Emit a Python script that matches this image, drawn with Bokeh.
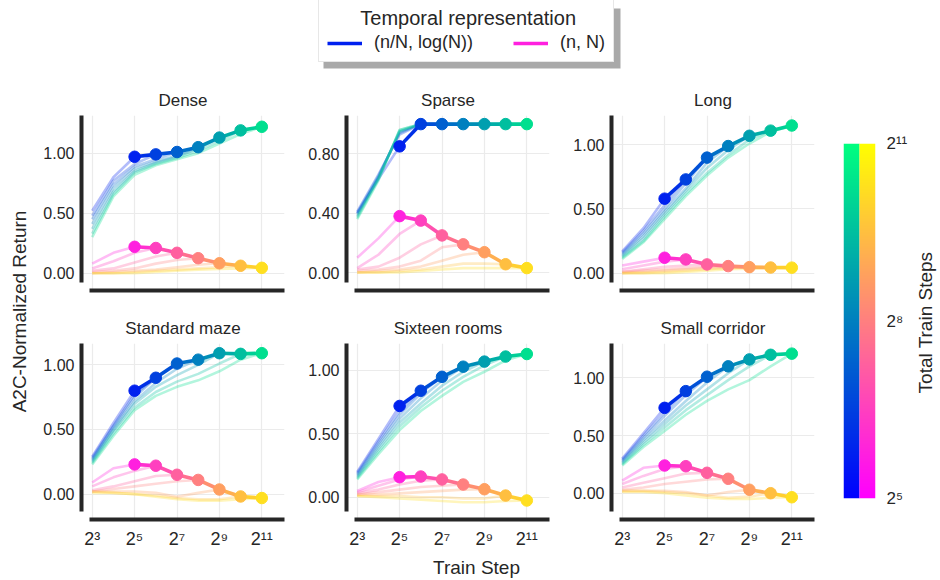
import numpy as np
from bokeh.plotting import figure
from bokeh.models import (Range1d, FixedTicker, PrintfTickFormatter, Legend, LegendItem,
                          Label, LinearColorMapper, BoxAnnotation)
from bokeh.layouts import row, column
from bokeh.embed import file_html
from bokeh.resources import INLINE

# ---------------- data ----------------
PANEL_TITLES = ["Dense", "Sparse", "Long", "Standard maze", "Sixteen rooms", "Small corridor"]
FIRST_EXP = 3                       # curves start at train step 2^3
TOTAL_EXP = [5, 6, 7, 8, 9, 10, 11]  # total train steps 2^5 ... 2^11 (one run each)
X_TICKS = [8, 32, 128, 512, 2048]
X_TICK_LABELS = ["2\u00b3", "2\u2075", "2\u2077", "2\u2079", "2\u00b9\u00b9"]
CB_TICKS = [32, 256, 2048]
CB_TICK_LABELS = ["2\u2075", "2\u2078", "2\u00b9\u00b9"]
Y_TICKS = [[0, 0.5, 1.0], [0, 0.4, 0.8], [0, 0.5, 1.0],
           [0, 0.5, 1.0], [0, 0.5, 1.0], [0, 0.5, 1.0]]
LEGEND_TITLE = "Temporal representation"
LEGEND_LABELS = ["(n/N, log(N))", "(n, N)"]

# each row: returns at train steps 2^3, 2^4, ..., 2^N for the run with N total steps
DENSE_BLUE = [
    [0.52, 0.80, 0.97],
    [0.48, 0.77, 0.91, 0.99],
    [0.45, 0.74, 0.89, 0.95, 1.01],
    [0.41, 0.71, 0.87, 0.93, 0.98, 1.05],
    [0.37, 0.68, 0.85, 0.92, 0.97, 1.04, 1.13],
    [0.33, 0.66, 0.84, 0.91, 0.96, 1.02, 1.10, 1.19],
    [0.30, 0.64, 0.82, 0.90, 0.95, 1.00, 1.08, 1.16, 1.22],
]
DENSE_PINK = [
    [0.08, 0.17, 0.22],
    [0.04, 0.10, 0.17, 0.21],
    [0.02, 0.04, 0.09, 0.14, 0.17],
    [0.01, 0.02, 0.04, 0.08, 0.11, 0.125],
    [0.00, 0.01, 0.02, 0.03, 0.05, 0.07, 0.083],
    [0.00, 0.00, 0.01, 0.02, 0.03, 0.04, 0.05, 0.062],
    [0.00, 0.00, 0.00, 0.01, 0.02, 0.03, 0.035, 0.04, 0.045],
]
SPARSE_BLUE = [
    [0.40, 0.63, 0.85],
    [0.41, 0.66, 0.93, 1.00],
    [0.40, 0.65, 0.94, 1.00, 1.00],
    [0.39, 0.64, 0.95, 1.00, 1.00, 1.00],
    [0.38, 0.64, 0.95, 1.00, 1.00, 1.00, 1.00],
    [0.37, 0.63, 0.96, 1.00, 1.00, 1.00, 1.00, 1.00],
    [0.36, 0.62, 0.96, 1.00, 1.00, 1.00, 1.00, 1.00, 1.00],
]
SPARSE_PINK = [
    [0.10, 0.23, 0.38],
    [0.03, 0.12, 0.26, 0.35],
    [0.02, 0.04, 0.10, 0.19, 0.25],
    [0.01, 0.02, 0.04, 0.08, 0.17, 0.19],
    [0.00, 0.01, 0.02, 0.04, 0.08, 0.12, 0.137],
    [0.00, 0.00, 0.01, 0.02, 0.04, 0.06, 0.06, 0.056],
    [0.00, 0.00, 0.00, 0.01, 0.02, 0.03, 0.03, 0.03, 0.03],
]
LONG_BLUE = [
    [0.17, 0.35, 0.58],
    [0.16, 0.33, 0.53, 0.73],
    [0.15, 0.31, 0.50, 0.70, 0.90],
    [0.14, 0.29, 0.48, 0.66, 0.86, 0.99],
    [0.13, 0.27, 0.46, 0.64, 0.82, 0.96, 1.07],
    [0.12, 0.25, 0.44, 0.62, 0.78, 0.92, 1.04, 1.11],
    [0.11, 0.24, 0.42, 0.60, 0.76, 0.90, 1.01, 1.10, 1.15],
]
LONG_PINK = [
    [0.06, 0.09, 0.12],
    [0.03, 0.06, 0.09, 0.107],
    [0.01, 0.03, 0.05, 0.06, 0.068],
    [0.01, 0.02, 0.03, 0.04, 0.05, 0.055],
    [0.00, 0.01, 0.02, 0.03, 0.04, 0.045, 0.047],
    [0.00, 0.00, 0.01, 0.02, 0.03, 0.04, 0.044, 0.044],
    [0.00, 0.00, 0.00, 0.01, 0.02, 0.03, 0.035, 0.04, 0.043],
]
MAZE_BLUE = [
    [0.29, 0.55, 0.80],
    [0.28, 0.53, 0.77, 0.90],
    [0.27, 0.52, 0.75, 0.90, 1.01],
    [0.26, 0.50, 0.72, 0.86, 0.97, 1.04],
    [0.25, 0.49, 0.70, 0.83, 0.92, 1.00, 1.09],
    [0.24, 0.47, 0.67, 0.79, 0.87, 0.93, 1.01, 1.085],
    [0.23, 0.45, 0.65, 0.76, 0.83, 0.88, 0.95, 1.04, 1.09],
]
MAZE_PINK = [
    [0.09, 0.20, 0.23],
    [0.06, 0.13, 0.18, 0.22],
    [0.03, 0.06, 0.10, 0.14, 0.15],
    [0.02, 0.04, 0.06, 0.08, 0.10, 0.11],
    [0.02, 0.02, 0.02, 0.01, -0.02, 0.01, 0.036],
    [0.02, 0.01, 0.00, -0.01, -0.03, -0.04, -0.04, -0.018],
    [0.01, 0.01, 0.00, -0.02, -0.04, -0.05, -0.05, -0.04, -0.03],
]
SIXTEEN_BLUE = [
    [0.20, 0.46, 0.72],
    [0.19, 0.44, 0.68, 0.84],
    [0.18, 0.42, 0.65, 0.82, 0.95],
    [0.17, 0.40, 0.62, 0.78, 0.92, 1.03],
    [0.16, 0.38, 0.59, 0.74, 0.88, 0.99, 1.07],
    [0.15, 0.36, 0.56, 0.71, 0.84, 0.95, 1.04, 1.11],
    [0.14, 0.34, 0.53, 0.68, 0.80, 0.91, 0.99, 1.08, 1.13],
]
SIXTEEN_PINK = [
    [0.05, 0.12, 0.158],
    [0.04, 0.09, 0.14, 0.163],
    [0.03, 0.06, 0.10, 0.13, 0.14],
    [0.02, 0.04, 0.06, 0.08, 0.09, 0.10],
    [0.02, 0.02, 0.03, 0.04, 0.05, 0.06, 0.063],
    [0.01, 0.01, 0.01, 0.00, 0.00, -0.01, -0.01, 0.013],
    [0.01, 0.00, -0.01, -0.02, -0.03, -0.04, -0.04, -0.03, -0.026],
]
CORRIDOR_BLUE = [
    [0.30, 0.52, 0.74],
    [0.29, 0.50, 0.70, 0.885],
    [0.28, 0.48, 0.67, 0.85, 1.01],
    [0.27, 0.46, 0.63, 0.80, 0.96, 1.10],
    [0.26, 0.44, 0.60, 0.76, 0.90, 1.04, 1.16],
    [0.25, 0.42, 0.57, 0.72, 0.85, 0.98, 1.10, 1.20],
    [0.24, 0.40, 0.54, 0.68, 0.80, 0.90, 0.98, 1.10, 1.21],
]
CORRIDOR_PINK = [
    [0.11, 0.22, 0.24],
    [0.08, 0.15, 0.21, 0.234],
    [0.05, 0.09, 0.13, 0.17, 0.177],
    [0.03, 0.05, 0.08, 0.10, 0.12, 0.125],
    [0.02, 0.02, 0.02, 0.01, -0.02, 0.01, 0.03],
    [0.02, 0.02, 0.01, 0.00, -0.02, -0.04, -0.03, 0.00],
    [0.01, 0.01, 0.00, -0.02, -0.04, -0.05, -0.05, -0.04, -0.035],
]
BLUE_RUNS = [DENSE_BLUE, SPARSE_BLUE, LONG_BLUE, MAZE_BLUE, SIXTEEN_BLUE, CORRIDOR_BLUE]
PINK_RUNS = [DENSE_PINK, SPARSE_PINK, LONG_PINK, MAZE_PINK, SIXTEEN_PINK, CORRIDOR_PINK]

# ---------------- layout / style ----------------
FONT = "Liberation Sans"
INK = "#262626"
GRID = "#ebebeb"
XLO, XHI, X_SPINE_LO = 2 ** 2.495, 2 ** 12.07, 2 ** 2.87
# (frame bottom, frame top, spine bottom) per panel
Y_FRAMES = [(-0.144, 1.314, -0.078), (-0.121, 1.058, -0.067), (-0.135, 1.228, -0.072),
            (-0.196, 1.165, -0.134), (-0.176, 1.213, -0.113), (-0.228, 1.298, -0.159)]
COLS = [dict(w=256, bl=41, br=12), dict(w=265, bl=50, br=12), dict(w=263, bl=50, br=10)]
ROWS = [dict(h=217, bt=32, bb=10), dict(h=255, bt=43, bb=36)]
SIDE_H = 217 + 255
SIDE_BT, SIDE_BB = 60, 57


def winter(t):
    return "#%02x%02x%02x" % (0, int(round(255 * t)), int(round(255 * (1 - t / 2))))


def spring(t):
    return "#%02x%02x%02x" % (255, int(round(255 * t)), int(round(255 * (1 - t))))


def run_t(i):
    return (i + 1) / 8.0


def blank_fig(width, height, **kw):
    f = figure(width=width, height=height, x_axis_location=None, y_axis_location=None,
               output_backend="svg", toolbar_location=None, **kw)
    f.grid.visible = False
    f.outline_line_color = None
    return f


def make_panel(k):
    r, c = divmod(k, 3)
    ylo, yhi, yspine = Y_FRAMES[k]
    p = figure(width=COLS[c]["w"], height=ROWS[r]["h"], x_axis_type="log",
               x_range=Range1d(XLO, XHI), y_range=Range1d(ylo, yhi),
               output_backend="svg", toolbar_location=None,
               min_border_left=COLS[c]["bl"], min_border_right=COLS[c]["br"],
               min_border_top=ROWS[r]["bt"], min_border_bottom=ROWS[r]["bb"],
               title=PANEL_TITLES[k])
    p.title.align = "center"
    p.title.text_font = FONT
    p.title.text_font_size = "17px"
    p.title.text_font_style = "normal"
    p.title.text_color = INK
    p.title.standoff = 11
    p.outline_line_color = None

    if r == 1:
        p.xaxis.ticker = FixedTicker(ticks=X_TICKS)
        p.xaxis.major_label_overrides = dict(zip(X_TICKS, X_TICK_LABELS))
    else:
        p.xaxis.ticker = FixedTicker(ticks=[])
    p.xgrid.ticker = FixedTicker(ticks=X_TICKS)
    p.xaxis.bounds = (X_SPINE_LO, XHI)
    p.yaxis.bounds = (yspine, yhi)
    p.yaxis.ticker = FixedTicker(ticks=Y_TICKS[k])
    p.ygrid.ticker = FixedTicker(ticks=Y_TICKS[k])
    p.yaxis.formatter = PrintfTickFormatter(format="%.2f")
    for ax in p.axis:
        ax.axis_line_width = 4
        ax.axis_line_color = INK
        ax.major_tick_line_color = None
        ax.minor_tick_line_color = None
        ax.major_tick_out = 0
        ax.major_tick_in = 0
        ax.major_label_text_font = FONT
        ax.major_label_text_color = INK
    p.yaxis.major_label_text_font_size = "16px"
    p.yaxis.major_label_standoff = 7
    p.xaxis.major_label_text_font_size = "18px"
    p.xaxis.major_label_standoff = 9
    p.grid.grid_line_color = GRID
    p.grid.grid_line_width = 1.2

    families = [(BLUE_RUNS[k], winter), (PINK_RUNS[k], spring)]
    # faint learning curves
    for runs, cmap in families:
        for i, (n_exp, ys) in enumerate(zip(TOTAL_EXP, runs)):
            xs = [2.0 ** e for e in range(FIRST_EXP, n_exp + 1)]
            p.line(xs, ys, line_color=cmap(run_t(i)), line_alpha=0.3, line_width=2.6)
    # final-return curves
    for runs, cmap in families:
        fx = [2.0 ** n for n in TOTAL_EXP]
        fy = [ys[-1] for ys in runs]
        cols = [cmap(run_t(i)) for i in range(len(fx))]
        seg_cols = [cmap((run_t(i) + run_t(i + 1)) / 2) for i in range(len(fx) - 1)]
        p.segment(x0=fx[:-1], y0=fy[:-1], x1=fx[1:], y1=fy[1:],
                  line_color=seg_cols, line_width=3.6)
        p.scatter(fx, fy, size=11.5, fill_color=cols, line_color=cols)
    return p


panels = [make_panel(k) for k in range(6)]

# ---------- top legend ----------
TOP_H = 83
top = blank_fig(938, TOP_H, x_range=Range1d(0, 1), y_range=Range1d(0, 1), min_border=0)
# single-point lines: draw nothing in the plot, only supply legend glyphs
rb = top.line(x=[-1], y=[-1], line_color=winter(run_t(0)), line_width=3.5)
rp = top.line(x=[-1], y=[-1], line_color=spring(run_t(0)), line_width=3.5)

top.add_layout(BoxAnnotation(left=323, right=620, bottom=TOP_H - 68, top=TOP_H - 8,
                             left_units="screen", right_units="screen",
                             bottom_units="screen", top_units="screen",
                             fill_color="#9a9a9a", fill_alpha=0.85, line_color=None))
lg = Legend(items=[LegendItem(label=LEGEND_LABELS[0], renderers=[rb]),
                   LegendItem(label=LEGEND_LABELS[1], renderers=[rp])],
            orientation="horizontal", location=(318, TOP_H - 62),
            title="\u00a0" * 6 + LEGEND_TITLE,
            padding=8, spacing=40, glyph_width=35, glyph_height=20,
            label_standoff=12, margin=0, title_standoff=2)
lg.label_text_font = FONT
lg.label_text_font_size = "18px"
lg.label_text_color = INK
lg.title_text_font = FONT
lg.title_text_font_size = "20px"
lg.title_text_font_style = "normal"
lg.title_text_color = INK
lg.background_fill_color = "white"
lg.background_fill_alpha = 1
lg.border_line_color = "#cfcfcf"
lg.border_line_width = 1.5
top.add_layout(lg)

# ---------- left label ----------
ylab = blank_fig(40, SIDE_H, min_border_left=0, min_border_right=0,
                 min_border_top=SIDE_BT, min_border_bottom=SIDE_BB)
ylab.add_layout(Label(x=19, y=187, x_units="screen", y_units="screen",
                      text="A2C-Normalized Return", angle=np.pi / 2,
                      text_align="center", text_baseline="middle",
                      text_font=FONT, text_font_size="19px", text_color=INK))

# ---------- colorbar ----------
cb = figure(width=86, height=SIDE_H, x_range=Range1d(0, 2), y_axis_type="log",
            y_range=Range1d(CB_TICKS[0], CB_TICKS[-1]), y_axis_location="right",
            x_axis_location=None, output_backend="svg", toolbar_location=None,
            min_border_left=19, min_border_right=33,
            min_border_top=SIDE_BT, min_border_bottom=SIDE_BB)
cb.grid.visible = False
cb.outline_line_color = None
grad = np.linspace(0, 1, 256).reshape(-1, 1)
cb.image(image=[grad], x=0, y=CB_TICKS[0], dw=1, dh=CB_TICKS[-1] - CB_TICKS[0],
         color_mapper=LinearColorMapper(palette=[winter(t) for t in np.linspace(0, 1, 256)], low=0, high=1))
cb.image(image=[grad], x=1, y=CB_TICKS[0], dw=1, dh=CB_TICKS[-1] - CB_TICKS[0],
         color_mapper=LinearColorMapper(palette=[spring(t) for t in np.linspace(0, 1, 256)], low=0, high=1))
cb.yaxis.ticker = FixedTicker(ticks=CB_TICKS)
cb.yaxis.major_label_overrides = dict(zip(CB_TICKS, CB_TICK_LABELS))
cb.yaxis.axis_line_color = None
cb.yaxis.major_tick_line_color = None
cb.yaxis.minor_tick_line_color = None
cb.yaxis.major_label_text_font = FONT
cb.yaxis.major_label_text_font_size = "17px"
cb.yaxis.major_label_text_color = INK
cb.yaxis.major_label_standoff = 5

# ---------- colorbar label ----------
clab = blank_fig(30, SIDE_H, min_border_left=0, min_border_right=0,
                 min_border_top=SIDE_BT, min_border_bottom=SIDE_BB)
clab.add_layout(Label(x=15, y=176, x_units="screen", y_units="screen",
                      text="Total Train Steps", angle=np.pi / 2,
                      text_align="center", text_baseline="middle",
                      text_font=FONT, text_font_size="19px", text_color=INK))

# ---------- bottom label ----------
bot = blank_fig(938, 23, min_border=0)
bot.add_layout(Label(x=476, y=11, x_units="screen", y_units="screen", text="Train Step",
                     text_align="center", text_baseline="middle",
                     text_font=FONT, text_font_size="19px", text_color=INK))

grid = column(row(*panels[:3]), row(*panels[3:]))
layout = column(top, row(ylab, grid, cb, clab), bot)

open("out.html", "w").write(file_html(layout, INLINE))
